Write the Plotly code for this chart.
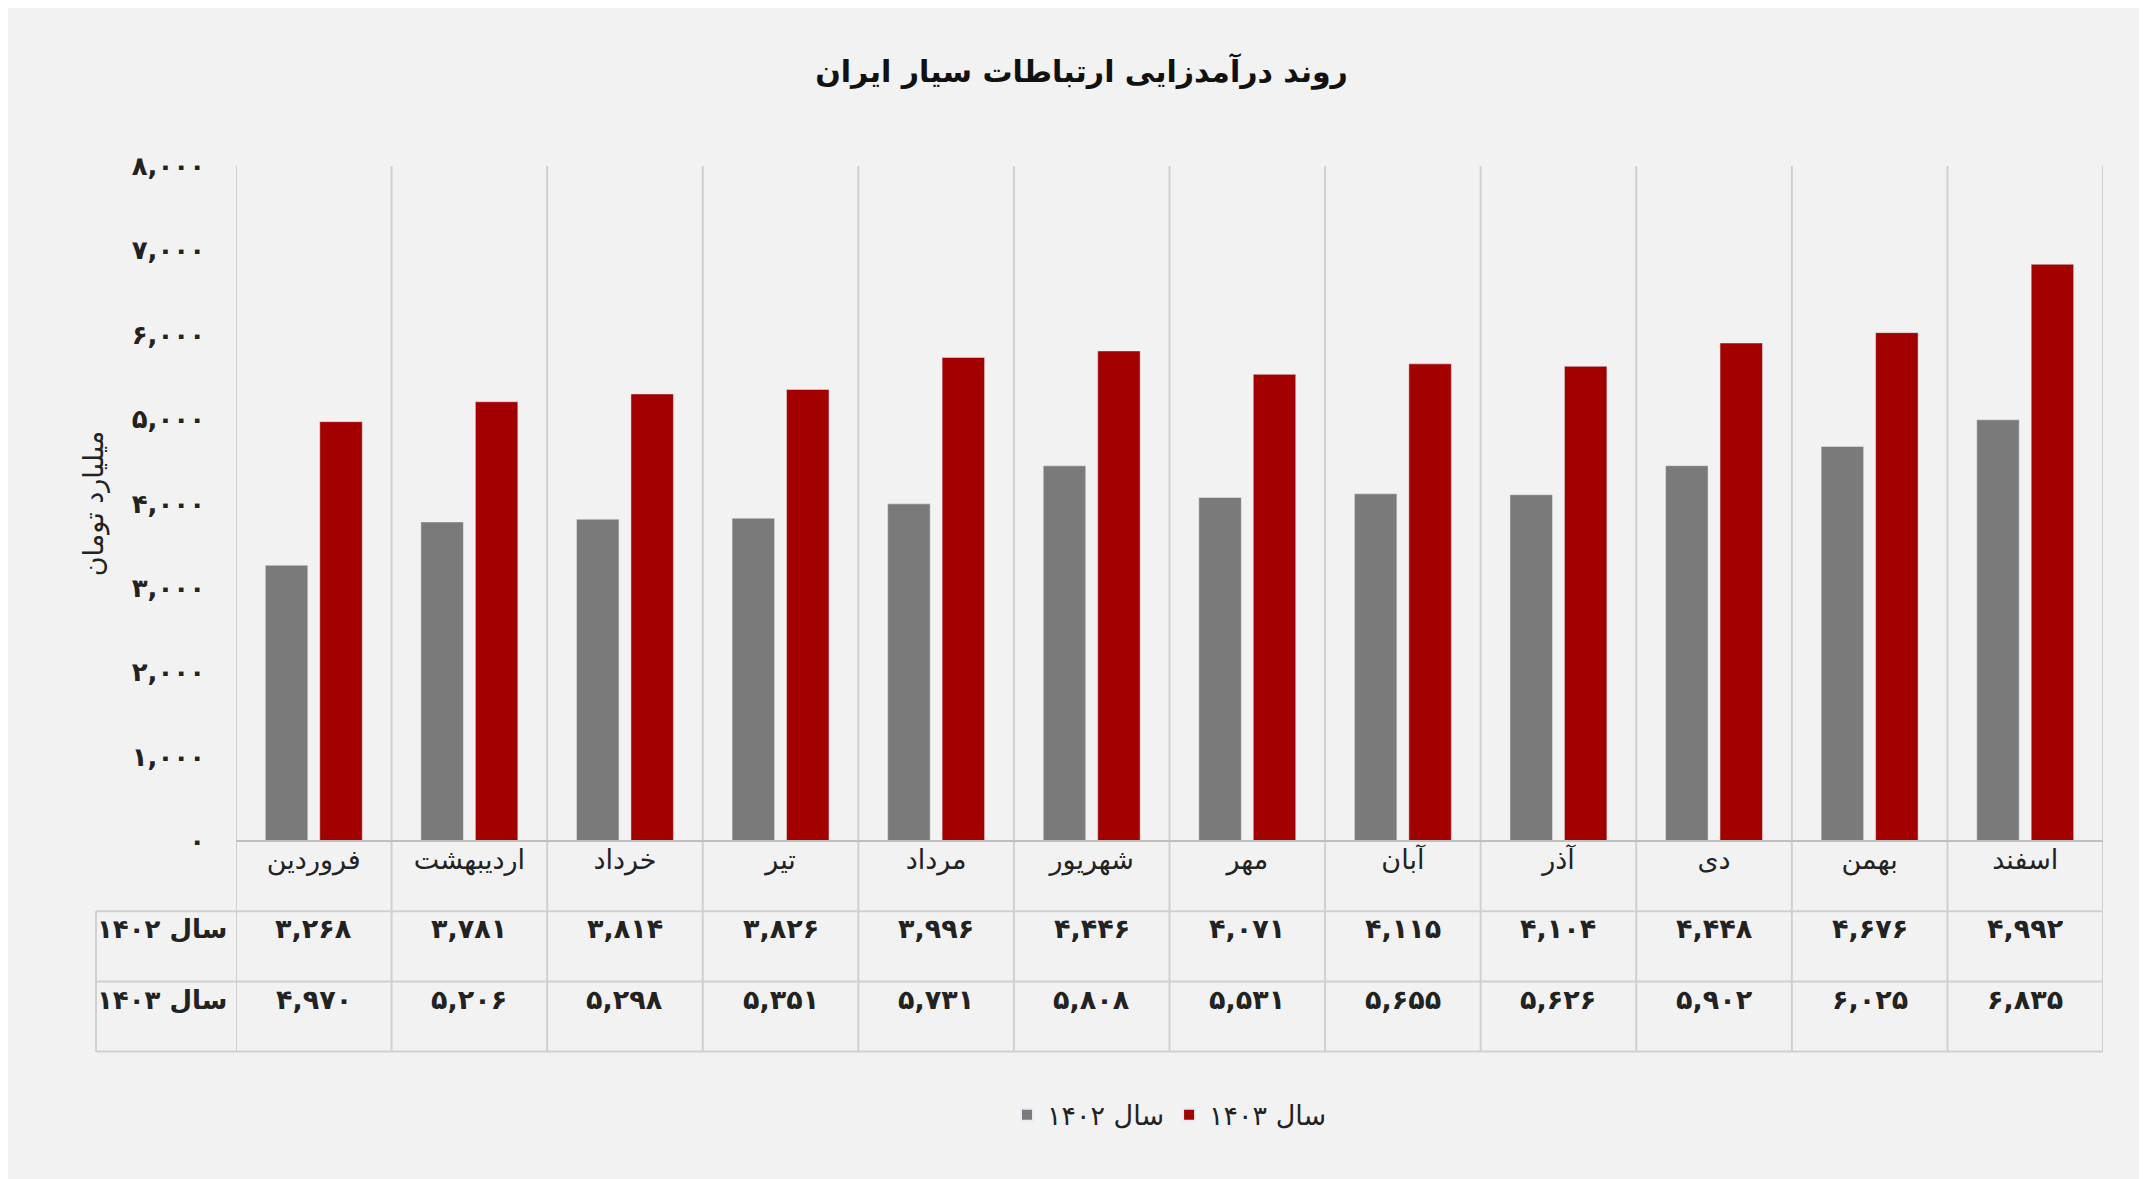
import plotly.graph_objects as go

months = ['فروردین', 'اردیبهشت', 'خرداد', 'تیر', 'مرداد', 'شهریور',
          'مهر', 'آبان', 'آذر', 'دی', 'بهمن', 'اسفند']
y1402 = [3268, 3781, 3814, 3826, 3996, 4446, 4071, 4115, 4104, 4448, 4676, 4992]
y1403 = [4970, 5206, 5298, 5351, 5731, 5808, 5531, 5655, 5626, 5902, 6025, 6835]
names = ['سال ۱۴۰۲', 'سال ۱۴۰۳']
ytick_vals = [0, 1000, 2000, 3000, 4000, 5000, 6000, 7000, 8000]

FA = str.maketrans('0123456789', '۰۱۲۳۴۵۶۷۸۹')


def fa(n):
    return f'{n:,}'.translate(FA)


FONT = 'DejaVu Sans'
fig = go.Figure()
fig.add_trace(go.Bar(x=months, y=y1402, name=names[0], marker_color='#7a7a7a'))
fig.add_trace(go.Bar(x=months, y=y1403, name=names[1], marker_color='#a30000'))

fig.update_layout(
    width=2147, height=1179,
    paper_bgcolor='#f2f2f2', plot_bgcolor='#f2f2f2',
    margin=dict(l=228, r=52, t=158, b=346),
    barmode='group', bargap=0.3, bargroupgap=0.22,
    font=dict(family=FONT, size=26, color='#222'),
    title=dict(text='<b>روند درآمدزایی ارتباطات سیار ایران</b>', x=0.5, y=0.955,
               xanchor='center', font=dict(size=30, color='#111')),
    legend=dict(orientation='h', x=0.5, xanchor='center', y=-0.37, yanchor='top',
                font=dict(size=27), itemsizing='constant'),
    showlegend=True,
)
fig.update_xaxes(showgrid=False, ticks='', tickfont=dict(size=27), range=[-0.5, 11.5])
fig.update_yaxes(range=[0, 8000], tickvals=ytick_vals,
                 ticktext=['<b>%s</b>' % fa(v) for v in ytick_vals], showgrid=False,
                 zeroline=False, tickfont=dict(size=26), ticklabelstandoff=30,
                 title=dict(text='میلیارد تومان', font=dict(size=27), standoff=20))

line = dict(color='#d0d0d0', width=2)
rh = 0.104
# vertical separators
for i in range(13):
    fig.add_shape(type='line', xref='x', yref='paper', x0=i - 0.5, x1=i - 0.5,
                  y0=1, y1=-3 * rh, line=line)
# horizontal table lines
fig.add_shape(type='line', xref='x', yref='paper', x0=-0.5, x1=11.5, y0=0, y1=0,
              line=dict(color='#bfbfbf', width=2))
for k in (1, 2, 3):
    fig.add_shape(type='line', xref='paper', yref='paper', x0=-0.075, x1=1,
                  y0=-k * rh, y1=-k * rh, line=line)
fig.add_shape(type='line', xref='paper', yref='paper', x0=-0.075, x1=-0.075,
              y0=-rh, y1=-3 * rh, line=line)

for r, (nm, vals) in enumerate(zip(names, [y1402, y1403])):
    yc = -(r + 1.5) * rh
    fig.add_annotation(xref='paper', yref='paper', x=-0.004, y=yc, text='<b>%s</b>' % nm,
                       showarrow=False, xanchor='right', font=dict(size=26))
    for i, v in enumerate(vals):
        fig.add_annotation(xref='x', yref='paper', x=i, y=yc, text='<b>%s</b>' % fa(v),
                           showarrow=False, font=dict(size=27))

fig.write_html('out.html')
